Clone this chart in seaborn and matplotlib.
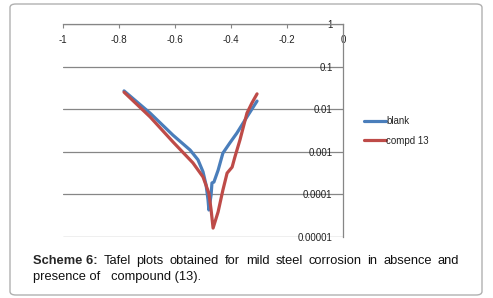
import matplotlib
matplotlib.use("Agg")
import matplotlib.pyplot as plt
from matplotlib.patches import FancyBboxPatch
import pandas as pd
import seaborn as sns

# potential (V) and current density
blank_x = [-0.782, -0.689, -0.607, -0.546, -0.518, -0.500, -0.489, -0.482, -0.479,
           -0.471, -0.468, -0.461, -0.446, -0.429, -0.404, -0.379, -0.343, -0.307]
blank_y = [0.0269, 0.0081, 0.00245, 0.0011, 0.00065, 0.00034, 0.000166, 0.000074, 0.000043,
           0.000098, 0.000186, 0.000195, 0.00037, 0.00093, 0.00162, 0.00275, 0.0066, 0.0155]

compd_x = [-0.782, -0.689, -0.607, -0.536, -0.500, -0.479, -0.471, -0.464, -0.446,
           -0.429, -0.414, -0.396, -0.386, -0.368, -0.343, -0.325, -0.307]
compd_y = [0.0251, 0.0066, 0.0017, 0.00055, 0.000257, 0.000107, 0.000043, 0.0000162, 0.000039,
           0.000126, 0.000316, 0.000437, 0.00076, 0.0019, 0.0081, 0.0141, 0.0229]

xticks = [-1, -0.8, -0.6, -0.4, -0.2, 0]
xticklabels = ["-1", "-0.8", "-0.6", "-0.4", "-0.2", "0"]
yticks = [1e-5, 1e-4, 1e-3, 1e-2, 1e-1, 1]
yticklabels = ["0.00001", "0.0001", "0.001", "0.01", "0.1", "1"]

caption_line1 = ["Tafel", "plots", "obtained", "for", "mild", "steel", "corrosion", "in", "absence", "and"]
caption_line2 = "presence of   compound (13)."

df = pd.concat([
    pd.DataFrame({"E": blank_x, "i": blank_y, "series": "blank"}),
    pd.DataFrame({"E": compd_x, "i": compd_y, "series": "compd 13"}),
])

sns.set_style("white")
plt.rcParams["font.family"] = ["Liberation Sans", "DejaVu Sans"]

W, H = 493, 298
fig = plt.figure(figsize=(W / 100, H / 100), dpi=100)
ax = fig.add_axes([63 / W, 1 - 237 / H, 280 / W, 213 / H])

sns.lineplot(data=df, x="E", y="i", hue="series", palette=["#4a7ebb", "#be4b48"],
             sort=False, estimator=None, linewidth=2.3, ax=ax, legend=True)

ax.set_yscale("log")
ax.set_xlim(-1, 0)
ax.set_ylim(1e-5, 1)
ax.set_xlabel("")
ax.set_ylabel("")

for s in ["left", "bottom"]:
    ax.spines[s].set_visible(False)
for s in ["top", "right"]:
    ax.spines[s].set_visible(True)
    ax.spines[s].set_color("#868686")
    ax.spines[s].set_linewidth(0.9)

ax.set_yticks(yticks)
ax.set_yticks([], minor=True)
ax.set_yticklabels(yticklabels)
ax.yaxis.set_ticks_position("right")
ax.tick_params(axis="y", which="both", length=0, pad=-7.5, labelsize=7, labelcolor="#222222")
for t in ax.get_yticklabels():
    t.set_horizontalalignment("right")
ax.grid(axis="y", color="#868686", linewidth=0.9)
ax.grid(axis="x", visible=False)

ax.set_xticks(xticks)
ax.set_xticklabels(xticklabels)
ax.xaxis.set_ticks_position("top")
ax.tick_params(axis="x", direction="in", length=3, color="#868686", pad=-15,
               labelsize=7, labelcolor="#222222")

h, l = ax.get_legend_handles_labels()
ax.legend(h, l, loc="center left", bbox_to_anchor=(355 / W, 1 - 131 / H),
          bbox_transform=fig.transFigure, frameon=False, fontsize=7,
          handlelength=2.3, handletextpad=0.0, labelspacing=1.0)

# border box
fig.patches.append(FancyBboxPatch((10 / W, 3 / H), 472 / W, 291 / H,
                                  boxstyle="round,pad=0,rounding_size=0.012",
                                  transform=fig.transFigure, fill=False,
                                  edgecolor="#b0b0b0", linewidth=1))

# caption, first line justified between x=33 and x=459
fig.canvas.draw()
r = fig.canvas.get_renderer()
y1 = 1 - 261 / H
fs = 9.3
items = [fig.text(33 / W, y1, "Scheme 6:", fontsize=fs, fontweight="bold", va="center")]
for w in caption_line1:
    items.append(fig.text(0, y1, w, fontsize=fs, va="center", color="#111111"))
widths = [t.get_window_extent(r).width for t in items]
gap = (426 - sum(widths)) / (len(items) - 1)
xpos = 33
for t, wd in zip(items, widths):
    t.set_x(xpos / W)
    xpos += wd + gap
fig.text(33 / W, 1 - 277 / H, caption_line2, fontsize=fs, va="center", color="#111111")

fig.savefig("out.png", dpi=100)
